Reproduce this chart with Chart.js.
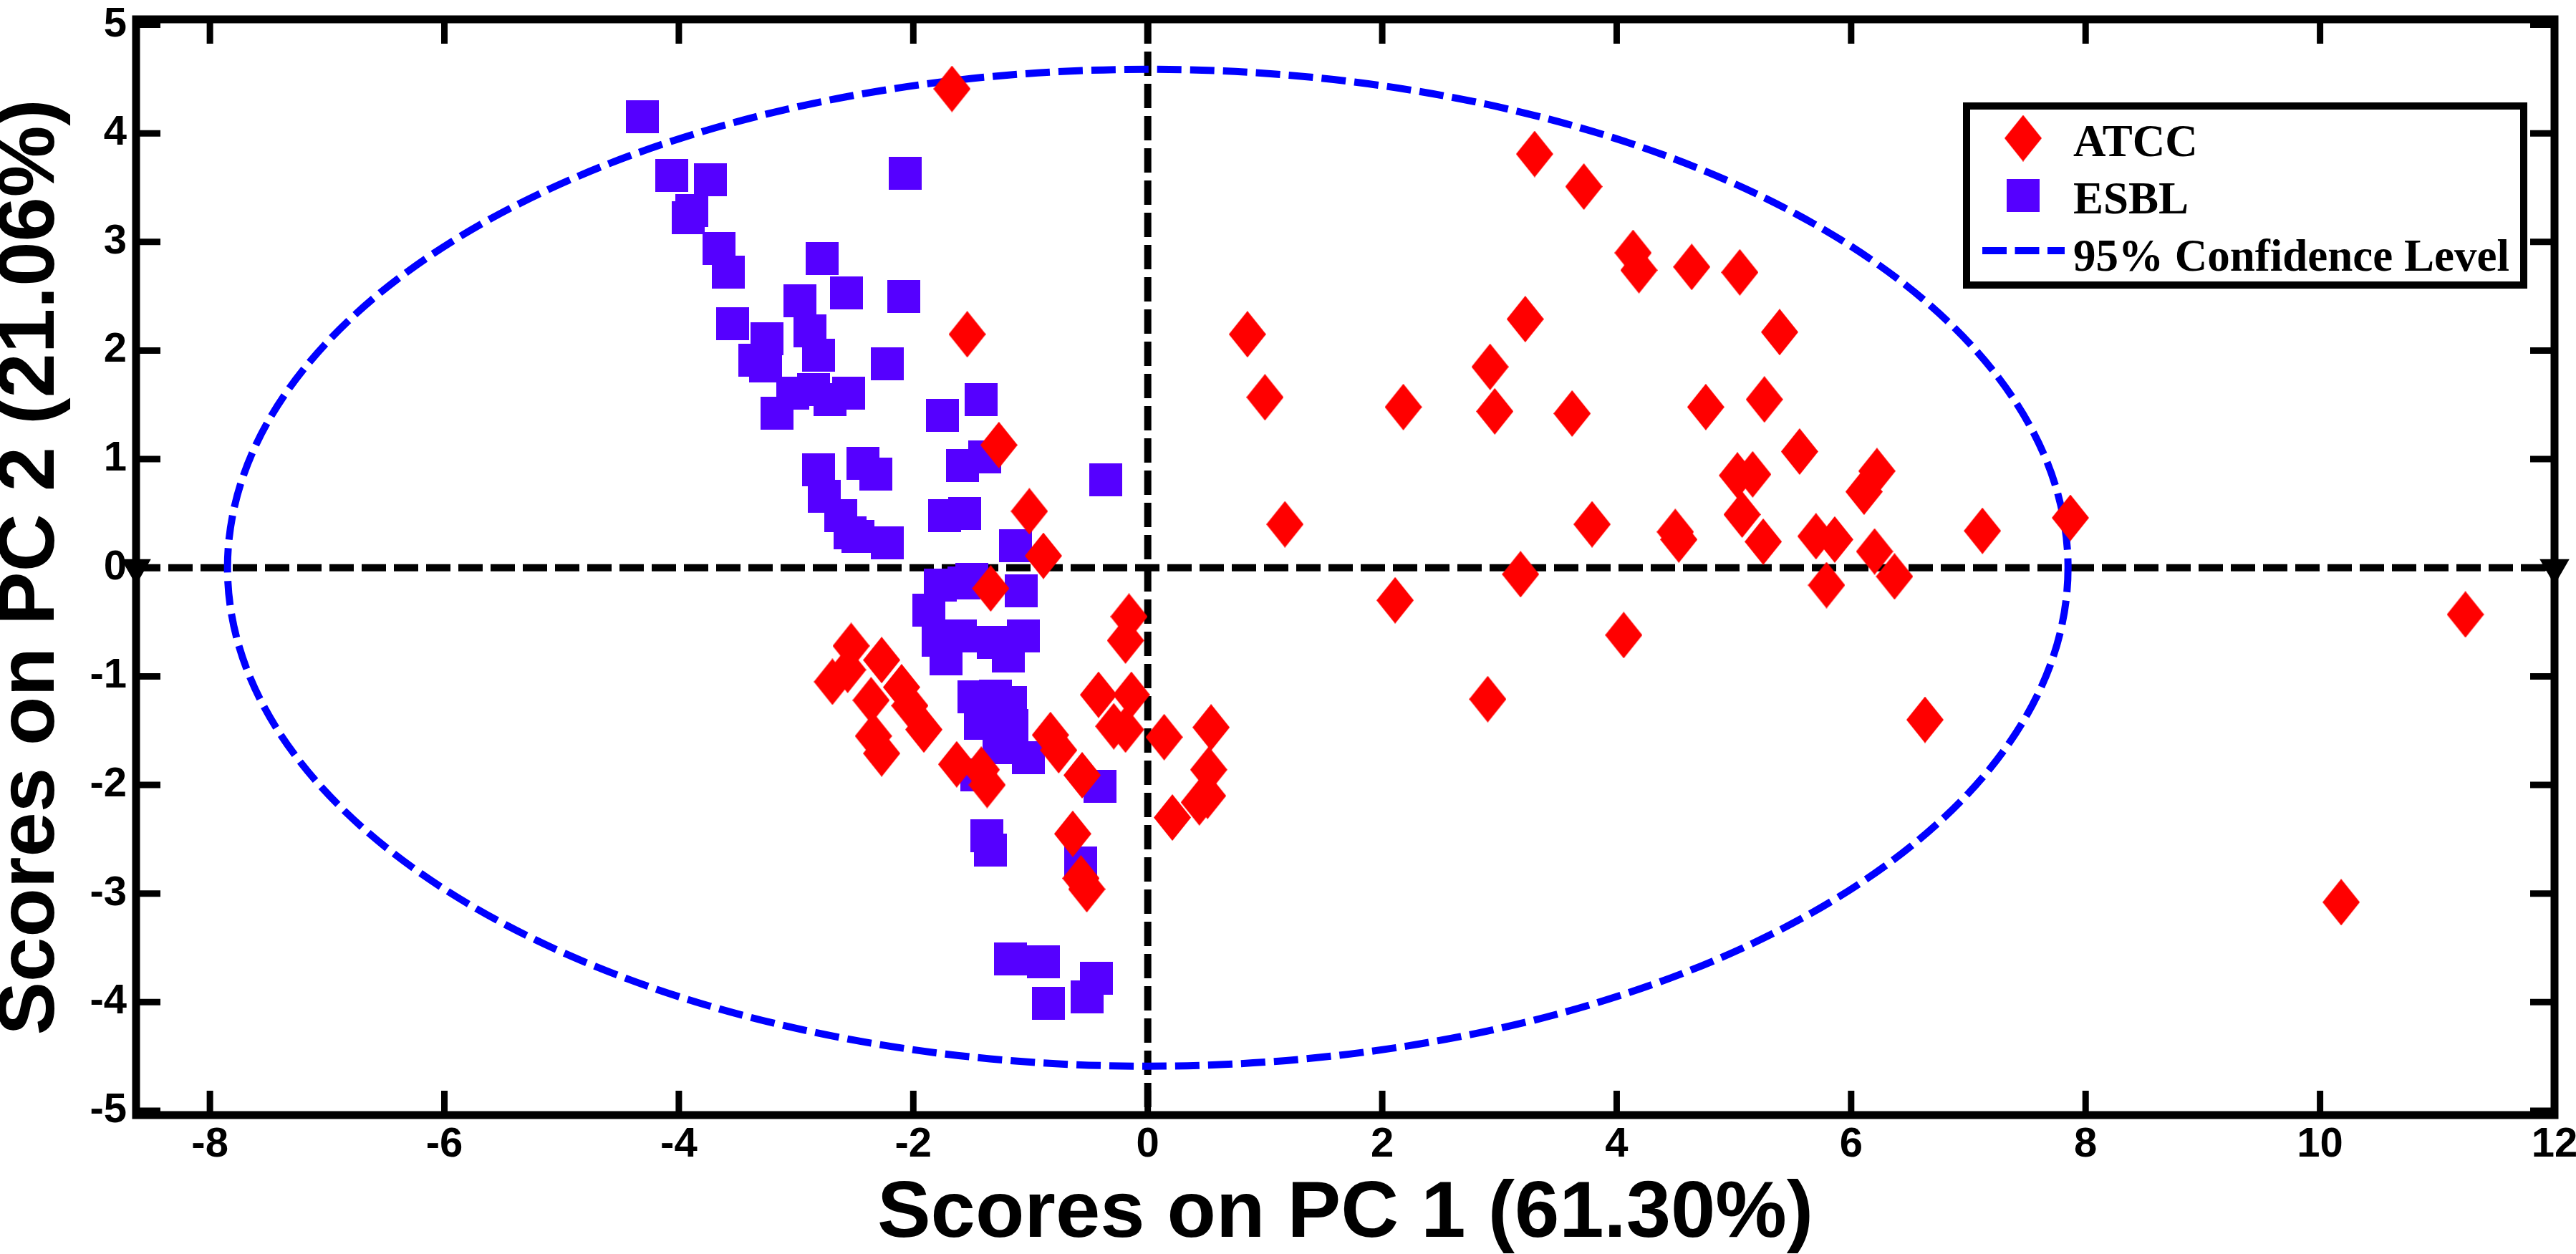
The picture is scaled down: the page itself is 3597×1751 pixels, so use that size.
<!DOCTYPE html>
<html>
<head>
<meta charset="utf-8">
<title>Scores on PC 1 / PC 2</title>
<script src="https://cdn.jsdelivr.net/npm/chart.js@4.4.1/dist/chart.umd.min.js"></script>
<style>
  html, body { margin: 0; padding: 0; background: #fff; overflow: hidden; }
  #wrap { width: 3597px; height: 1751px; position: relative; }
</style>
</head>
<body>
<div id="wrap"><canvas id="scoresChart"></canvas></div>
<script>
// Scores (PC 1 = x, PC 2 = y)
const atccX = [
  -1.67, -1.54, -1.27, -1.01, -0.89, -1.34, -0.16, -0.19,
  -2.53, -2.69, -2.56, -2.27, -2.10, -2.03, -1.91, -2.36, -2.34, -2.27,
  -1.63, -1.42, -1.37, -0.83, -0.76, -0.42, -0.14, -0.29, -0.19, -0.56,
  -0.64, -0.57, -0.52, 0.14, 0.54, 0.52, 0.51, 0.44, 0.21,
  0.85, 1.00, 1.17, 3.30, 3.72, 4.14, 4.19, 4.64, 5.05, 3.22, 5.39,
  2.92, 2.18, 2.96, 3.62, 4.76, 5.26, 5.56, 5.03, 5.16, 5.07, 6.22, 6.11,
  3.79, 4.50, 4.53, 5.25, 5.70, 5.86, 5.79, 6.20, 6.37, 3.18, 2.11, 4.06,
  2.90, 6.63, 7.12, 7.87, 11.24, 10.18
];
const atccY = [
  4.41, 2.15, 1.13, 0.52, 0.11, -0.19, -0.45, -0.67,
  -0.72, -1.05, -0.94, -0.85, -1.10, -1.27, -1.49, -1.22, -1.55, -1.71,
  -1.81, -1.86, -2.00, -1.54, -1.68, -1.17, -1.17, -1.46, -1.49, -1.91,
  -2.45, -2.86, -2.96, -1.56, -1.47, -1.86, -2.10, -2.16, -2.30,
  2.15, 1.57, 0.40, 3.81, 3.51, 2.90, 2.74, 2.77, 2.72, 2.29, 2.17,
  1.85, 1.48, 1.44, 1.42, 1.48, 1.55, 1.07, 0.85, 0.86, 0.49, 0.89, 0.70,
  0.40, 0.33, 0.26, 0.24, 0.29, 0.26, -0.16, 0.15, -0.08, -0.06, -0.30, -0.62,
  -1.21, -1.40, 0.34, 0.46, -0.43, -3.08
];
const esblX = [
  -4.31, -4.06, -3.73, -3.89, -3.92, -3.66, -3.58, -2.07, -2.78, -2.57,
  -2.97, -2.08, -3.54, -3.25, -2.88, -2.81, -3.35, -3.26, -2.22, -3.03,
  -2.85, -2.55, -2.71, -3.16, -1.42, -1.75, -1.39, -1.58, -0.36, -2.43,
  -2.32, -2.81, -2.76, -2.62, -1.73, -1.56, -1.13, -2.54, -2.47, -2.22,
  -1.50, -1.77, -1.57, -1.87, -1.79, -1.72, -1.60, -1.32, -1.19, -1.06,
  -1.08, -1.48, -1.30, -1.17, -1.43, -1.16, -1.27, -1.02, -1.46, -0.41,
  -1.37, -1.34, -0.57, -1.17, -0.89, -0.85, -0.44, -0.52
];
const esblY = [
  4.15, 3.61, 3.57, 3.29, 3.22, 2.94, 2.72, 3.63, 2.85, 2.53,
  2.46, 2.50, 2.25, 2.11, 2.18, 1.96, 1.91, 1.86, 1.88, 1.61,
  1.64, 1.61, 1.55, 1.42, 1.55, 1.40, 1.02, 0.94, 0.81, 0.96,
  0.86, 0.90, 0.66, 0.48, 0.48, 0.50, 0.20, 0.32, 0.29, 0.23,
  -0.11, -0.16, -0.14, -0.39, -0.67, -0.84, -0.63, -0.69, -0.81, -0.63,
  -0.21, -1.19, -1.18, -1.24, -1.43, -1.45, -1.66, -1.75, -1.91, -2.01,
  -2.47, -2.60, -2.72, -3.60, -3.63, -4.01, -3.78, -3.95
];

// axes
const xTicks = [-8, -6, -4, -2, 0, 2, 4, 6, 8, 10, 12];
const yTicks = [-5, -4, -3, -2, -1, 0, 1, 2, 3, 4, 5];
const xRange = [-8.63, 12];
const yRange = [-5.04, 5.05];

// 95% confidence ellipse (centre and semi-axes in score units)
const ellipseCenter = [0, 0];
const ellipseAxes = [7.85, 4.59];
const ellipseLabel = '95% Confidence Level';

const sansBold = '"Liberation Sans", Arial, Helvetica, sans-serif';
const serifBold = '"Liberation Serif", "Times New Roman", serif';

function toPoints(xs, ys) {
  return xs.map((v, i) => ({ x: v, y: ys[i] }));
}

// marker images: tall red diamond and purple square, like the MATLAB markers
function makeDiamond(w, h, color) {
  const c = document.createElement('canvas');
  c.width = w; c.height = h;
  const g = c.getContext('2d');
  g.fillStyle = color;
  g.beginPath();
  g.moveTo(w / 2, 0); g.lineTo(w, h / 2); g.lineTo(w / 2, h); g.lineTo(0, h / 2);
  g.closePath();
  g.fill();
  return c;
}
function makeSquare(s, color) {
  const c = document.createElement('canvas');
  c.width = s; c.height = s;
  const g = c.getContext('2d');
  g.fillStyle = color;
  g.fillRect(0, 0, s, s);
  return c;
}
const diamondImg = makeDiamond(52, 65, '#FF0000');
const squareImg = makeSquare(46, '#5500FF');

// confidence ellipse, drawn after the black zero lines
const ellipsePlugin = {
  id: 'confidenceEllipse',
  afterDatasetDraw(chart, args) {
    if (args.index !== 2) return;
    const { ctx, chartArea: a, scales: { x, y } } = chart;
    const cx = x.getPixelForValue(ellipseCenter[0]);
    const cy = y.getPixelForValue(ellipseCenter[1]);
    const rx = x.getPixelForValue(ellipseCenter[0] + ellipseAxes[0]) - cx;
    const ry = cy - y.getPixelForValue(ellipseCenter[1] + ellipseAxes[1]);
    ctx.save();
    ctx.beginPath();
    ctx.rect(a.left, a.top, a.width, a.height);
    ctx.clip();
    ctx.strokeStyle = '#0000FF';
    ctx.lineWidth = 10;
    ctx.setLineDash([34, 12]);
    ctx.beginPath();
    ctx.ellipse(cx, cy, rx, ry, 0, 0, Math.PI * 2);
    ctx.stroke();
    ctx.restore();
  }
};

// box round the plot with inward ticks on all four sides
const framePlugin = {
  id: 'frame',
  afterDraw(chart) {
    const { ctx, chartArea: a, scales: { x, y } } = chart;
    const len = 34;
    ctx.save();
    ctx.strokeStyle = '#000';
    ctx.lineWidth = 9;
    ctx.beginPath();
    x.ticks.forEach(t => {
      const px = x.getPixelForValue(t.value);
      ctx.moveTo(px, a.bottom); ctx.lineTo(px, a.bottom - len);
      ctx.moveTo(px, a.top); ctx.lineTo(px, a.top + len);
    });
    y.ticks.forEach(t => {
      const py = y.getPixelForValue(t.value);
      ctx.moveTo(a.left, py); ctx.lineTo(a.left + len, py);
      ctx.moveTo(a.right, py); ctx.lineTo(a.right - len, py);
    });
    ctx.stroke();
    ctx.lineWidth = 11;
    ctx.strokeRect(a.left, a.top, a.right - a.left, a.bottom - a.top);
    ctx.restore();
  }
};

// legend in a black box, top right of the plot
const boxLegendPlugin = {
  id: 'boxLegend',
  afterDraw(chart, args, opts) {
    const ctx = chart.ctx;
    const b = opts.box;
    const ds = chart.data.datasets;
    ctx.save();
    ctx.fillStyle = '#fff';
    ctx.fillRect(b.left, b.top, b.right - b.left, b.bottom - b.top);
    ctx.strokeStyle = '#000';
    ctx.lineWidth = 10;
    ctx.strokeRect(b.left, b.top, b.right - b.left, b.bottom - b.top);

    const items = [
      { text: ds[0].label, img: diamondImg },
      { text: ds[1].label, img: squareImg },
      { text: ellipseLabel, line: true }
    ];
    ctx.font = 'bold 63px ' + serifBold;
    ctx.textBaseline = 'alphabetic';
    ctx.textAlign = 'left';
    items.forEach((it, i) => {
      const base = opts.baselines[i];
      if (it.img) {
        ctx.drawImage(it.img, opts.markerX - it.img.width / 2, base - 25 - it.img.height / 2);
      } else {
        ctx.save();
        ctx.strokeStyle = '#0000FF';
        ctx.lineWidth = 10;
        ctx.setLineDash([34, 11.5]);
        ctx.beginPath();
        ctx.moveTo(opts.lineFrom, base - 28);
        ctx.lineTo(opts.lineTo, base - 28);
        ctx.stroke();
        ctx.restore();
      }
      ctx.fillStyle = '#000';
      ctx.fillText(it.text, opts.textX, base);
    });
    ctx.restore();
  }
};

const ctxEl = document.getElementById('scoresChart');
new Chart(ctxEl, {
  type: 'scatter',
  data: {
    datasets: [
      {
        label: 'ATCC',
        data: toPoints(atccX, atccY),
        pointStyle: diamondImg,
        pointRadius: 26,
        order: 0
      },
      {
        label: 'ESBL',
        data: toPoints(esblX, esblY),
        pointStyle: squareImg,
        pointRadius: 23,
        order: 1
      },
      {
        label: 'PC 2 = 0',
        data: [{ x: xRange[0], y: 0 }, { x: xRange[1], y: 0 }],
        showLine: true,
        borderColor: '#000',
        borderWidth: 10,
        borderDash: [34, 11],
        borderCapStyle: 'butt',
        pointStyle: 'triangle',
        pointRotation: 180,
        pointRadius: 24,
        pointBackgroundColor: '#000',
        pointBorderWidth: 0,
        clip: false,
        order: 3
      },
      {
        label: 'PC 1 = 0',
        data: [{ x: 0, y: yRange[1] }, { x: 0, y: yRange[0] }],
        showLine: true,
        borderColor: '#000',
        borderWidth: 10,
        borderDash: [34, 11],
        borderCapStyle: 'butt',
        pointRadius: 0,
        order: 3
      }
    ]
  },
  options: {
    responsive: true,
    maintainAspectRatio: false,
    devicePixelRatio: 1,
    animation: false,
    events: [],
    layout: { padding: { left: 0, right: 30, top: 12, bottom: 0 } },
    plugins: {
      legend: { display: false },
      tooltip: { enabled: false },
      boxLegend: {
        box: { left: 2746, top: 148, right: 3524, bottom: 398 },
        markerX: 2825,
        lineFrom: 2768,
        lineTo: 2883,
        textX: 2895,
        baselines: [218, 298, 378]
      }
    },
    scales: {
      x: {
        type: 'linear',
        position: 'bottom',
        min: xRange[0],
        max: xRange[1],
        grid: { display: false, drawTicks: false },
        border: { display: false },
        ticks: {
          color: '#000',
          padding: 13,
          autoSkip: false,
          maxRotation: 0,
          font: { family: sansBold, size: 58, weight: 'bold', lineHeight: 1 },
          callback: v => String(v)
        },
        title: {
          display: true,
          text: 'Scores on PC 1 (61.30%)',
          color: '#000',
          padding: 0,
          font: { family: sansBold, size: 112, weight: 'bold', lineHeight: 0.98 }
        },
        afterBuildTicks: s => { s.ticks = xTicks.map(v => ({ value: v })); },
        afterFit: s => { s.height = 194; s.paddingLeft = 0; s.paddingRight = 0; }
      },
      y: {
        type: 'linear',
        position: 'left',
        min: yRange[0],
        max: yRange[1],
        grid: { display: false, drawTicks: false },
        border: { display: false },
        ticks: {
          color: '#000',
          padding: 13,
          autoSkip: false,
          font: { family: sansBold, size: 58, weight: 'bold', lineHeight: 1 },
          callback: v => String(v)
        },
        title: {
          display: true,
          text: 'Scores on PC 2 (21.06%)',
          color: '#000',
          padding: 0,
          font: { family: sansBold, size: 112, weight: 'bold', lineHeight: 0.786 }
        },
        afterBuildTicks: s => { s.ticks = yTicks.map(v => ({ value: v })); },
        afterFit: s => { s.width = 190; s.paddingTop = 0; s.paddingBottom = 0; }
      }
    }
  },
  plugins: [ellipsePlugin, framePlugin, boxLegendPlugin]
});
</script>
</body>
</html>
